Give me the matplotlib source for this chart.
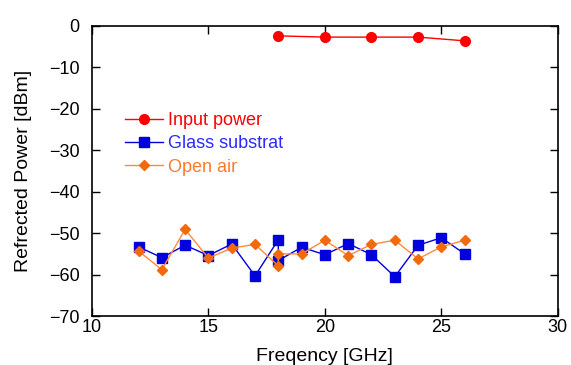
import matplotlib
matplotlib.use("Agg")
import matplotlib.pyplot as plt

# input power
x_input = [18, 20, 22, 24, 26]
y_input = [-2.4, -2.7, -2.7, -2.7, -3.6]

# glass substrat (two runs joined at 18 GHz)
x_glass = [12, 13, 14, 15, 16, 17, 18, 18, 19, 20, 21, 22, 23, 24, 25, 26]
y_glass = [-53.3, -55.9, -52.9, -55.4, -52.6, -60.3, -51.6, -56.6,
           -53.4, -55.2, -52.5, -55.2, -60.5, -52.9, -51.1, -55.0]

# open air
x_air = [12, 13, 14, 15, 16, 17, 18, 18, 19, 20, 21, 22, 23, 24, 25, 26]
y_air = [-54.3, -58.8, -49.1, -56.0, -53.6, -52.7, -57.9, -55.0,
         -55.0, -51.7, -55.4, -52.7, -51.7, -56.2, -53.3, -51.7]

x_ticks = [10, 15, 20, 25, 30]
y_ticks = [0, -10, -20, -30, -40, -50, -60, -70]


def main() -> None:
    plt.rcParams["font.family"] = ["Liberation Sans", "DejaVu Sans"]
    fig = plt.figure(figsize=(5.71, 3.65), dpi=100)
    ax = fig.add_axes([0.161, 0.134, 0.816, 0.795])

    ax.plot(x_input, y_input, color="#ff0000", marker="o", markersize=7,
            linewidth=1, label="Input power")
    ax.plot(x_glass, y_glass, color="#0000dd", marker="s", markersize=7,
            linewidth=1, label="Glass substrat")
    ax.plot(x_air, y_air, color="#ff8a3d", marker="D", markersize=5.5,
            markerfacecolor="#f26a0c", markeredgecolor="#f26a0c",
            linewidth=1, label="Open air")

    ax.set_xlim(10, 30)
    ax.set_ylim(-70, 0)
    ax.set_xticks(x_ticks)
    ax.set_yticks(y_ticks)
    ax.tick_params(direction="in", top=True, right=True, labelsize=13,
                   length=6, width=1)
    ax.tick_params(axis="x", pad=2)
    ax.tick_params(axis="y", pad=9)
    for s in ax.spines.values():
        s.set_linewidth(1.2)

    ax.set_xlabel("Freqency [GHz]", fontsize=14, labelpad=9)
    ax.set_ylabel("Refrected Power [dBm]", fontsize=14, labelpad=12)

    leg = ax.legend(loc="upper left", bbox_to_anchor=(0.071, 0.703),
                    frameon=False, fontsize=13, handlelength=2.1,
                    handletextpad=0.3, labelspacing=0.35, borderpad=0,
                    borderaxespad=0)
    text_colors = ["#ff0000", "#2a2aff", "#ff7a2a"]
    for txt, c in zip(leg.get_texts(), text_colors):
        txt.set_color(c)

    fig.savefig("out.png", dpi=100)


if __name__ == "__main__":
    main()
